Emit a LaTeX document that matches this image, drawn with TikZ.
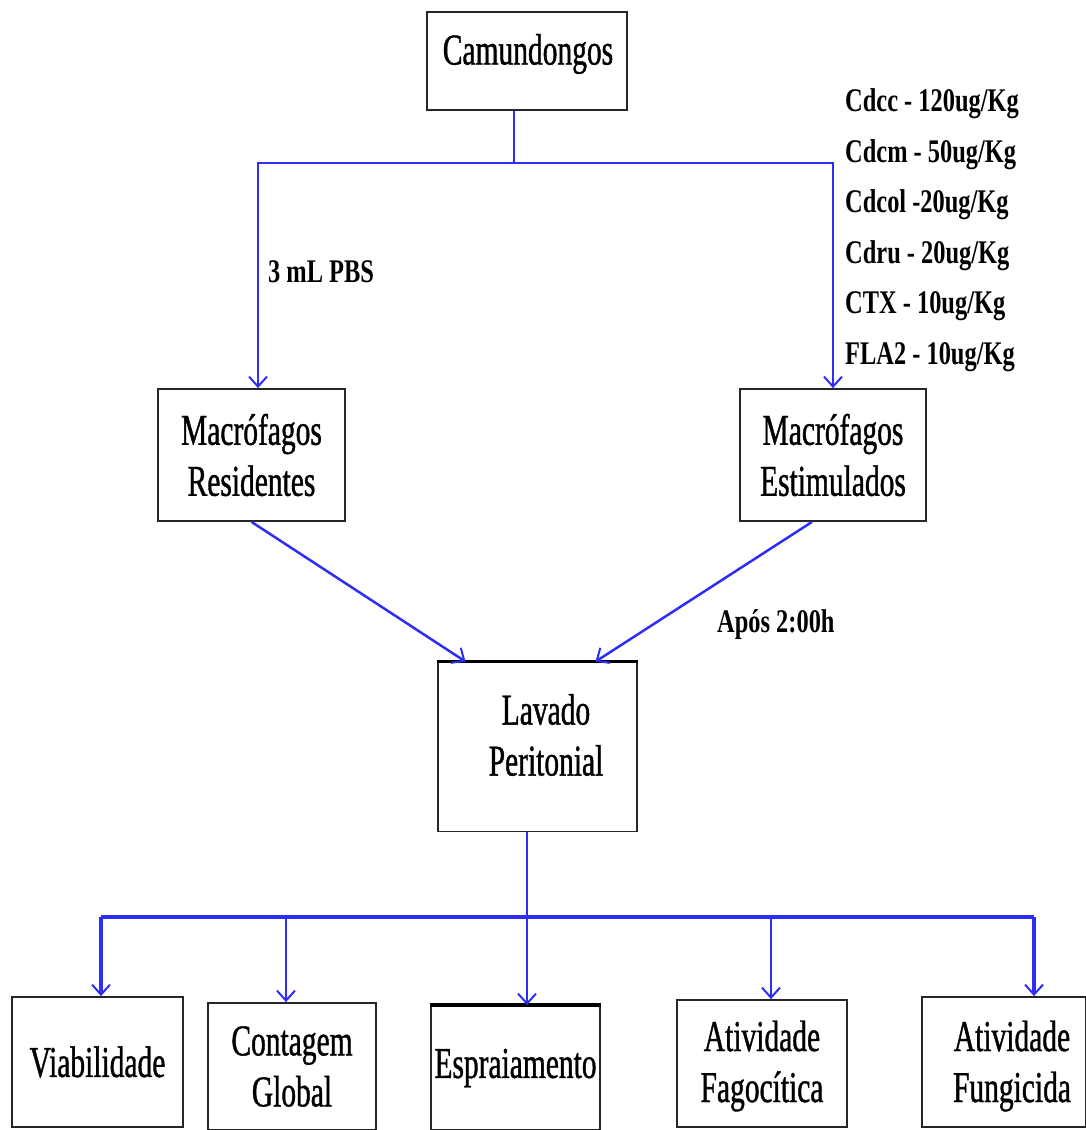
\documentclass[tikz,border=0pt]{standalone}
\usepackage{fontspec}
\setmainfont{Liberation Serif}
\newfontfamily\boxfont[FakeStretch=0.67,FakeBold=0.9]{Liberation Serif}
\newfontfamily\labfont[FakeStretch=0.74]{Liberation Serif}
\usetikzlibrary{arrows.meta}
\definecolor{flowblue}{RGB}{45,45,245}
\tikzset{
  caixa/.style={draw=black!85, line width=1.8, fill=white, inner sep=0pt, align=center,
    font=\boxfont\fontsize{44}{51}\selectfont},
  texto/.style={inner sep=0pt, align=center, font=\boxfont\fontsize{44}{51}\selectfont},
  rotulo/.style={inner sep=0pt, anchor=west, align=left,
    font=\labfont\bfseries\fontsize{33}{50.5}\selectfont},
  linha/.style={flowblue, line width=2},
  seta/.style={linha, -{Straight Barb[length=10,width=18,line width=2]}},
  setagrossa/.style={seta, line width=3.5}
}
\begin{document}
\begin{tikzpicture}[x=1pt,y=-1pt]
\useasboundingbox (0,0) rectangle (1086,1130);
% caixas
\node[caixa, minimum width=200, minimum height=98] (cam) at (527,61) {};
\node[texto] (camtxt) at (528,54) {Camundongos};
\node[caixa, minimum width=187, minimum height=132] (res) at (251.5,455) {Macrófagos\\Residentes};
\node[caixa, minimum width=186, minimum height=132] (est) at (833,455) {Macrófagos\\Estimulados};
\node[caixa, minimum width=199, minimum height=169] (lav) at (537.5,747) {};
\node[texto] (lavtxt) at (546,735) {Lavado\\Peritonial};
\node[caixa, minimum width=171, minimum height=130] (via) at (97.5,1062) {Viabilidade};
\node[caixa, minimum width=168, minimum height=127] (cont) at (292,1066.5) {Contagem\\Global};
\node[caixa, minimum width=169, minimum height=124] (esp) at (515.5,1068) {Espraiamento};
\node[caixa, minimum width=170, minimum height=127] (fag) at (762,1063.5) {};
\node[texto] (fagtxt) at (762,1066) {Atividade\\Fagocítica};
\node[caixa, minimum width=164, minimum height=130] (fun) at (1004,1062) {};
\node[texto] (funtxt) at (1012,1066) {Atividade\\Fungicida};
\draw[black, line width=3.5] (lav.north west) -- (lav.north east);
\draw[black, line width=3.5] (esp.north west) -- (esp.north east);
% rotulos
\node[rotulo] (pbs) at (268,272) {3 mL PBS};
\node[rotulo] (doses) at (845,230) {Cdcc - 120ug/Kg\\Cdcm - 50ug/Kg\\Cdcol -20ug/Kg\\Cdru - 20ug/Kg\\CTX - 10ug/Kg\\FLA2 - 10ug/Kg};
\node[rotulo] (apos) at (717,625) {Após 2:00h};
% ligacoes de cima
\coordinate (t0) at (514,163);
\coordinate (tl) at (258,163);
\coordinate (tr) at (833,163);
\draw[linha] (cam.south -| t0) -- (t0);
\draw[seta] (t0) -- (tl) -- (tl |- res.north);
\draw[seta] (t0) -- (tr) -- (tr |- est.north);
\draw[seta, line width=2.5] (res.south) -- ([xshift=-72]lav.north);
\draw[seta, line width=2.5] ([xshift=-21]est.south) -- ([xshift=58]lav.north);
% ligacoes de baixo
\coordinate (b0) at (527,917);
\coordinate (bl) at (101,917);
\coordinate (br) at (1034,917);
\draw[linha] (lav.south -| b0) -- (b0);
\draw[linha, line width=3.5] (bl) -- (br);
\draw[setagrossa] (bl) -- (bl |- via.north);
\draw[seta] (cont.north |- b0) ++(-6,0) coordinate (b1) -- (b1 |- cont.north);
\draw[seta] (b0) -- (b0 |- esp.north);
\draw[seta] (771,917) coordinate (b3) -- (b3 |- fag.north);
\draw[setagrossa] (br) -- (br |- fun.north);
\end{tikzpicture}
\end{document}
